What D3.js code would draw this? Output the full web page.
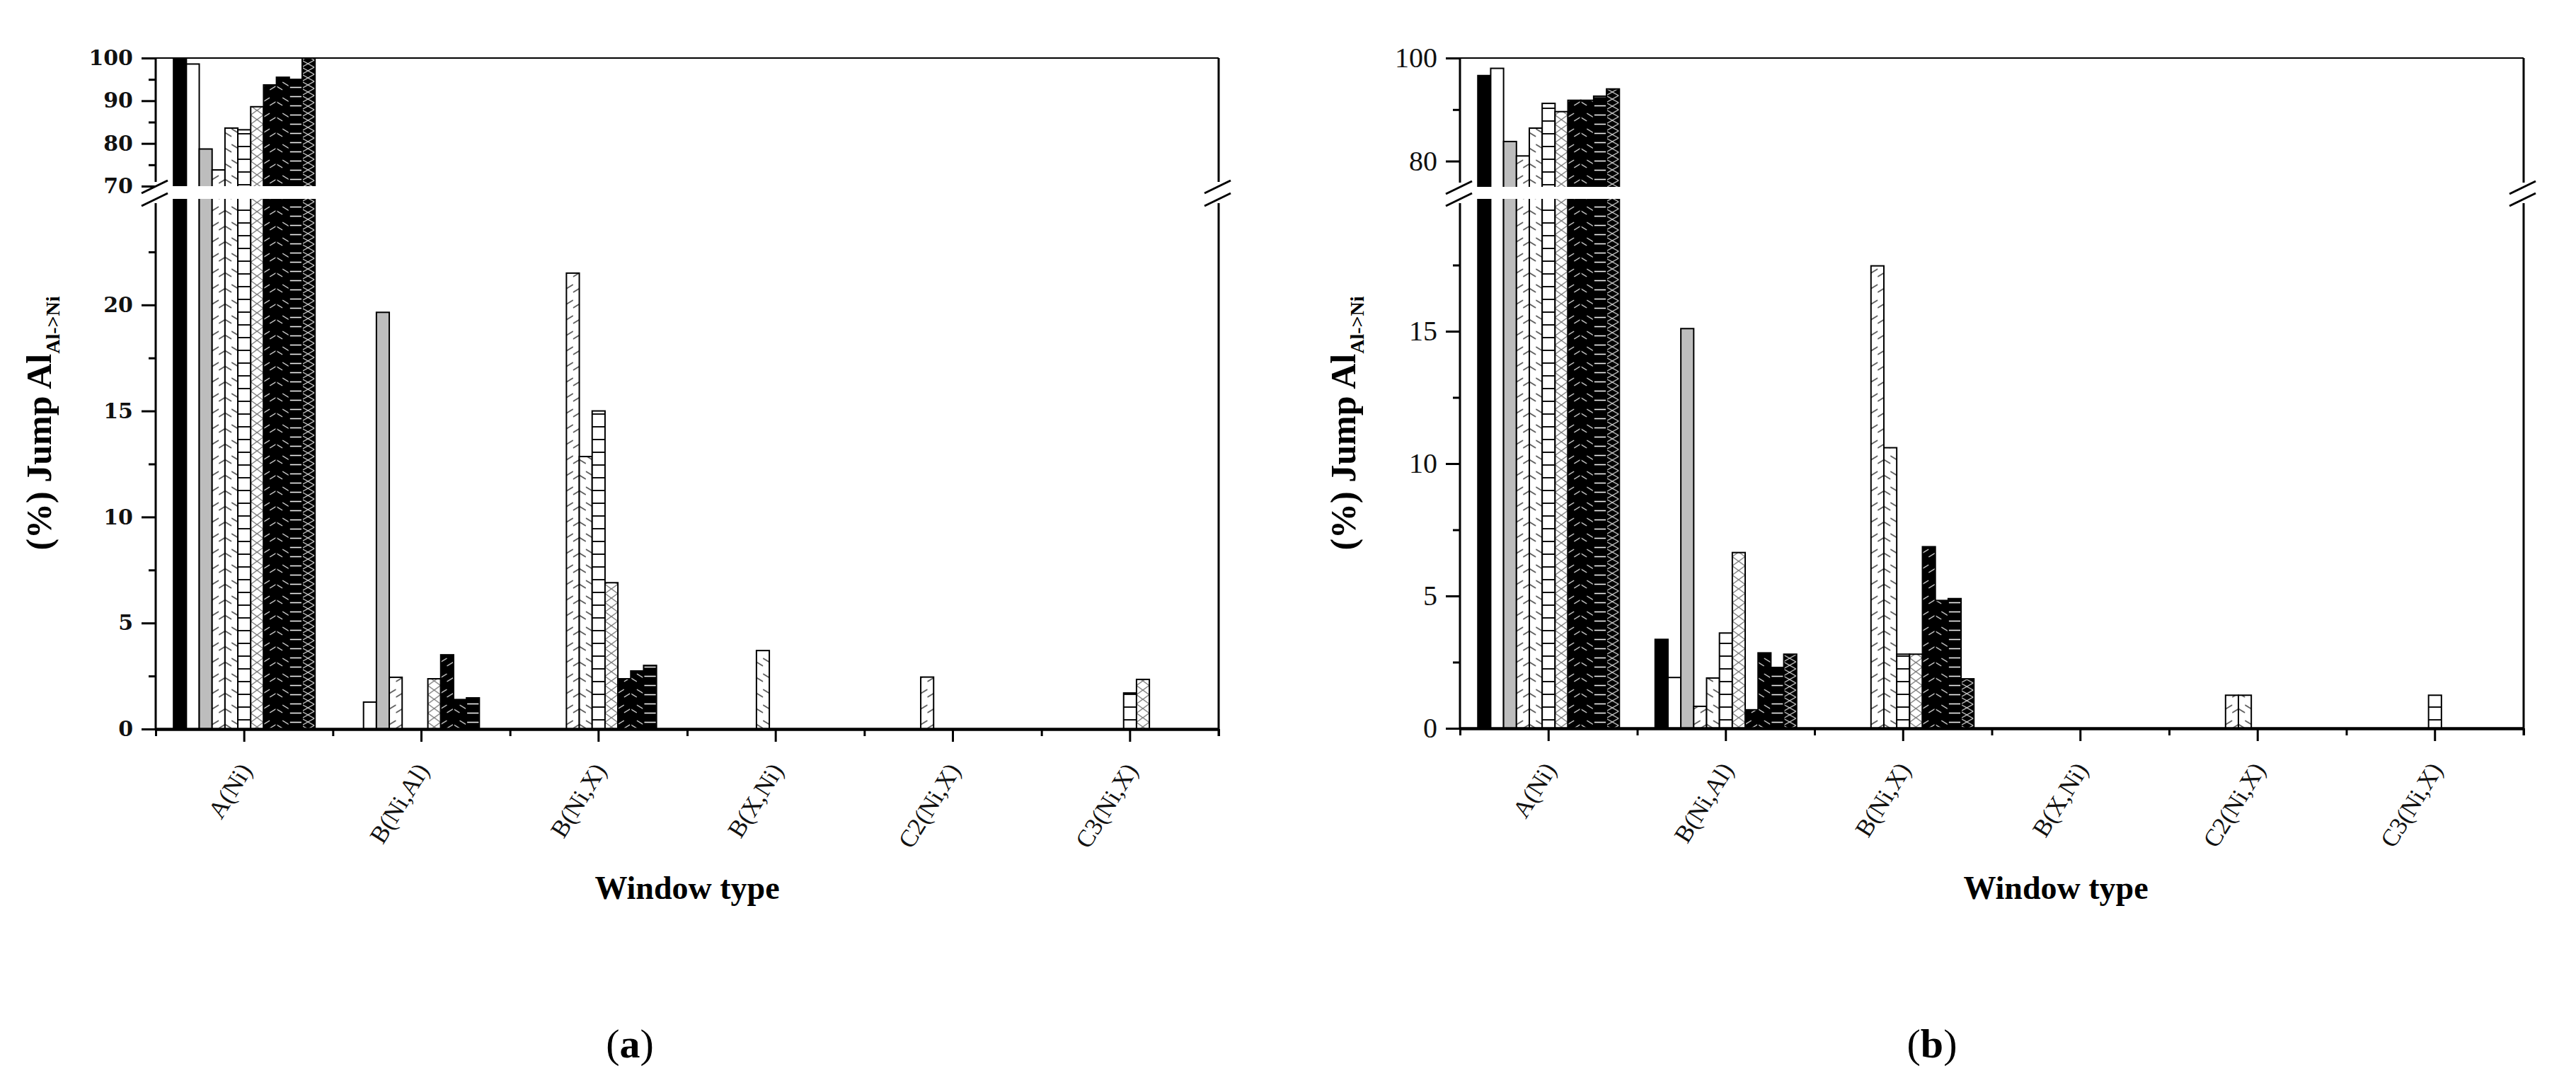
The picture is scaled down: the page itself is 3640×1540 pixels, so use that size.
<!DOCTYPE html>
<html>
<head>
<meta charset="utf-8">
<script src="https://cdn.jsdelivr.net/npm/d3@7"></script>
<style>
  body { margin: 0; background: #fff; }
  svg { display: block; }
</style>
</head>
<body>
<svg id="chart" width="3640" height="1540"></svg>
<script>
// window types on the x axis
var categories = ["A(Ni)", "B(Ni,Al)", "B(Ni,X)", "B(X,Ni)", "C2(Ni,X)", "C3(Ni,X)"];

// 11 series per window type, panel (a)
var valuesA = [
  [100, 98.6, 78.7, 73.8, 83.6, 83.2, 88.6, 93.7, 95.5, 95.0, 100],
  [0, 1.27, 19.65, 2.44, 0, 0, 2.37, 3.5, 1.39, 1.47, 0],
  [0, 0, 0, 21.5, 12.85, 15.0, 6.9, 2.37, 2.74, 3.0, 0],
  [0, 0, 0, 0, 3.7, 0, 0, 0, 0, 0, 0],
  [0, 0, 0, 2.45, 0, 0, 0, 0, 0, 0, 0],
  [0, 0, 0, 0, 0, 1.7, 2.34, 0, 0, 0, 0]
];

// panel (b)
var valuesB = [
  [96.6, 98.0, 83.8, 81.0, 86.4, 91.2, 89.6, 91.8, 91.8, 92.6, 94.0],
  [3.36, 1.92, 15.1, 0.83, 1.9, 3.6, 6.64, 0.7, 2.85, 2.3, 2.8],
  [0, 0, 0, 17.47, 10.6, 2.8, 2.8, 6.86, 4.83, 4.9, 1.87],
  [0, 0, 0, 0, 0, 0, 0, 0, 0, 0, 0],
  [0, 0, 0, 1.25, 1.25, 0, 0, 0, 0, 0, 0],
  [0, 0, 0, 0, 0, 1.25, 0, 0, 0, 0, 0]
];

// y axis ticks
var majorTicksA = [0, 5, 10, 15, 20, 70, 80, 90, 100];
var minorTicksA = [2.5, 7.5, 12.5, 17.5, 22.5, 75, 85, 95];
var majorTicksB = [0, 5, 10, 15, 80, 100];
var minorTicksB = [2.5, 7.5, 12.5, 17.5, 90];

// fill for each series (black / white / grey / hatches)
var fills = ["#000", "#fff", "#bdbdbd", "url(#w-fwd)", "url(#w-back)", "url(#w-hor)",
  "url(#w-cross)", "url(#k-fwd)", "url(#k-back)", "url(#k-hor)", "url(#k-cross)"];

var svg = d3.select("#chart");
svg.append("rect").attr("width", 3640).attr("height", 1540).attr("fill", "#fff");

var defs = svg.append("defs");

function hatch(id, bg, fg, sw, w, h, segs) {
  var p = defs.append("pattern")
      .attr("id", id)
      .attr("patternUnits", "userSpaceOnUse")
      .attr("width", w)
      .attr("height", h);
  p.append("rect").attr("width", w).attr("height", h).attr("fill", bg);
  segs.forEach(function(s) {
    p.append("line")
        .attr("x1", s[0]).attr("y1", s[1]).attr("x2", s[2]).attr("y2", s[3])
        .attr("stroke", fg).attr("stroke-width", sw);
  });
}
hatch("w-fwd", "#fff", "#555", 1.6, 18, 22, [[0, 17, 18, 6]]);
hatch("w-back", "#fff", "#555", 1.6, 18, 22, [[0, 6, 18, 17]]);
hatch("w-hor", "#fff", "#111", 2, 18, 18, [[0, 9, 18, 9]]);
hatch("w-cross", "#fff", "#777", 1.4, 18, 26, [[0, 0, 18, 13], [0, 13, 18, 0], [0, 13, 18, 26], [0, 26, 18, 13]]);
hatch("k-fwd", "#000", "#ddd", 1.4, 18, 22, [[0, 17, 18, 6]]);
hatch("k-back", "#000", "#ddd", 1.4, 18, 22, [[0, 6, 18, 17]]);
hatch("k-hor", "#000", "#eee", 1.6, 18, 13, [[0, 6.5, 18, 6.5]]);
hatch("k-cross", "#000", "#ccc", 1.2, 18, 20, [[0, 0, 18, 10], [0, 10, 18, 0], [0, 10, 18, 20], [0, 20, 18, 10]]);

var panels = [
  {
    values: valuesA, x0: 220, x1: 1722, y0: 1030, gapLow: 281, gapHigh: 263, top: 82,
    lowMax: 25, highMin: 70, highMax: 100,
    major: majorTicksA, minor: minorTicksA,
    tickFont: "'DejaVu Serif', serif", tickSize: 30, tickWeight: "bold",
    titleX: 72, letter: "a", letterX: 890, typeX: 971
  },
  {
    values: valuesB, x0: 2063, x1: 3566, y0: 1029, gapLow: 281, gapHigh: 264, top: 82,
    lowMax: 20, highMin: 75, highMax: 100,
    major: majorTicksB, minor: minorTicksB,
    tickFont: "'Liberation Serif', 'Times New Roman', serif", tickSize: 40, tickWeight: "normal",
    titleX: 1915, letter: "b", letterX: 2730, typeX: 2905
  }
];

panels.forEach(drawPanel);

function drawPanel(p) {
  var g = svg.append("g");

  var x = d3.scaleBand().domain(categories).range([p.x0, p.x1]);
  var bw = x.bandwidth();
  var inner = d3.scaleBand().domain(d3.range(fills.length)).range([-100, 100]);

  // broken axis: two linear pieces joined across the gap
  var y = d3.scaleLinear()
      .domain([0, p.lowMax, p.highMin, p.highMax])
      .range([p.y0, p.gapLow, p.gapHigh, p.top])
      .clamp(true);

  g.append("g").selectAll("g")
    .data(p.values)
    .join("g")
      .attr("transform", function(d, i) { return "translate(" + (x(categories[i]) + bw / 2) + ",0)"; })
    .selectAll("rect")
    .data(function(d) { return d.map(function(v, i) { return { v: v, i: i }; }).filter(function(e) { return e.v > 0; }); })
    .join("rect")
      .attr("x", function(d) { return inner(d.i); })
      .attr("width", inner.bandwidth())
      .attr("y", function(d) { return y(d.v); })
      .attr("height", function(d) { return y(0) - y(d.v); })
      .attr("fill", function(d) { return fills[d.i]; })
      .attr("stroke", "#000")
      .attr("stroke-width", 2);

  // white band where the axis is broken
  g.append("rect")
      .attr("x", p.x0 + 2)
      .attr("width", p.x1 - p.x0 - 4)
      .attr("y", p.gapHigh)
      .attr("height", p.gapLow - p.gapHigh)
      .attr("fill", "#fff");

  // frame: top line, left and right lines with break
  g.append("line")
      .attr("x1", p.x0).attr("x2", p.x1)
      .attr("y1", p.top).attr("y2", p.top)
      .attr("stroke", "#000").attr("stroke-width", 2.2);

  [p.x0, p.x1].forEach(function(xx) {
    g.append("path")
        .attr("d", "M" + xx + "," + (p.y0 + (xx === p.x1 ? 10 : 0)) + "V" + (p.gapLow + 6) +
          "M" + xx + "," + (p.gapHigh - 6) + "V" + p.top)
        .attr("fill", "none").attr("stroke", "#000").attr("stroke-width", 3);
    [p.gapHigh + 1, p.gapLow + 1].forEach(function(c) {
      g.append("line")
          .attr("x1", xx - 20).attr("y1", c + 9)
          .attr("x2", xx + 17).attr("y2", c - 9)
          .attr("stroke", "#000").attr("stroke-width", 3);
    });
  });

  // y ticks
  var yMajor = g.append("g")
      .attr("transform", "translate(" + p.x0 + ",0)")
      .call(d3.axisLeft(y).tickValues(p.major).tickSize(20).tickPadding(12).tickFormat(d3.format("d")));
  yMajor.select(".domain").remove();
  yMajor.selectAll("line").attr("stroke-width", 3);
  yMajor.selectAll("text")
      .attr("font-family", p.tickFont)
      .attr("font-size", p.tickSize)
      .attr("font-weight", p.tickWeight)
      .attr("fill", "#111");

  var yMinor = g.append("g")
      .attr("transform", "translate(" + p.x0 + ",0)")
      .call(d3.axisLeft(y).tickValues(p.minor).tickSize(10).tickFormat(""));
  yMinor.select(".domain").remove();
  yMinor.selectAll("line").attr("stroke-width", 3);

  // x axis
  var xAxis = g.append("g")
      .attr("transform", "translate(0," + p.y0 + ")")
      .call(d3.axisBottom(x).tickSize(18).tickSizeOuter(0).tickFormat(""));
  xAxis.select(".domain").attr("stroke-width", 4.5);
  xAxis.selectAll(".tick line").attr("stroke-width", 3);

  var xEdges = d3.scaleLinear().domain([0, categories.length]).range([p.x0, p.x1]);
  var xMinor = g.append("g")
      .attr("transform", "translate(0," + p.y0 + ")")
      .call(d3.axisBottom(xEdges).tickValues(d3.range(categories.length + 1)).tickSize(10).tickFormat(""));
  xMinor.select(".domain").remove();
  xMinor.selectAll("line").attr("stroke-width", 3);

  g.selectAll(".xlabel")
    .data(categories)
    .join("text")
      .attr("class", "xlabel")
      .attr("transform", function(d) {
        return "translate(" + (x(d) + bw / 2 + 12) + "," + (p.y0 + 58) + ") rotate(-58)";
      })
      .attr("text-anchor", "end")
      .attr("font-family", "'Liberation Serif', 'Times New Roman', serif")
      .attr("font-size", 35)
      .attr("fill", "#111")
      .text(function(d) { return d; });

  // y title
  var yt = g.append("text")
      .attr("transform", "translate(" + p.titleX + ",598) rotate(-90)")
      .attr("text-anchor", "middle")
      .attr("font-family", "'Liberation Serif', 'Times New Roman', serif")
      .attr("font-weight", "bold")
      .attr("font-size", 50)
      .attr("fill", "#000");
  yt.append("tspan").text("(%) Jump Al");
  yt.append("tspan").attr("font-size", 28).attr("dy", 12).text("Al->Ni");

  // x title
  g.append("text")
      .attr("x", p.typeX)
      .attr("y", 1270)
      .attr("text-anchor", "middle")
      .attr("font-family", "'Liberation Serif', 'Times New Roman', serif")
      .attr("font-weight", "bold")
      .attr("font-size", 46)
      .text("Window type");

  // panel letter
  var lt = g.append("text")
      .attr("x", p.letterX)
      .attr("y", 1494)
      .attr("text-anchor", "middle")
      .attr("font-family", "'Liberation Serif', 'Times New Roman', serif")
      .attr("font-size", 58)
      .attr("fill", "#000");
  lt.append("tspan").text("(");
  lt.append("tspan").attr("font-weight", "bold").text(p.letter);
  lt.append("tspan").text(")");
}
</script>
</body>
</html>
